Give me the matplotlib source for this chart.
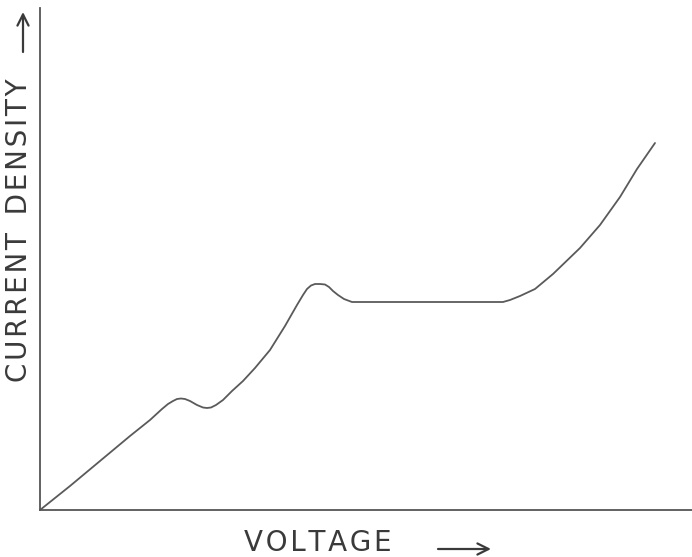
import matplotlib
matplotlib.use("Agg")
import matplotlib.pyplot as plt
from matplotlib.patches import FancyArrowPatch

# Voltage / current density readings (arbitrary units)
voltage = [0, 30, 60, 90, 110, 122, 128, 133, 137, 141, 145, 150, 157, 163, 167,
           171, 176, 183, 192, 203, 215, 230, 245, 257, 263, 267, 271, 275, 280,
           285, 289, 293, 298, 304, 312, 360, 410, 463, 470, 480, 495, 513, 540,
           560, 580, 597, 615]
current = [0, 24, 49, 74, 90, 101, 106, 109, 111, 111.5, 111, 109, 105, 102.5, 102,
           102.5, 105, 110, 119, 129, 142, 160, 184, 205, 215, 221, 224.5, 226, 226,
           225.5, 223, 219, 215, 211, 208, 208, 208, 208, 210, 214, 221, 236, 262,
           285, 313, 341, 367]

x_words = ["VOLTAGE"]
y_words = ["CURRENT", "DENSITY"]


def spaced(words):
    return "  ".join("\u200a".join(w) for w in words)


W, H = 692, 557
fig = plt.figure(figsize=(W / 100, H / 100), dpi=100)
ax = fig.add_axes([40 / W, 1 - 510 / H, 1 - 40 / W, (510 - 8) / H])
ax.plot(voltage, current, color="#5a5a5a", lw=1.3, solid_capstyle="round",
        solid_joinstyle="round")
ax.set_xlim(0, 652)
ax.set_ylim(0, 502)
ax.set_xticks([])
ax.set_yticks([])
for s in ["top", "right"]:
    ax.spines[s].set_visible(False)
for s in ["left", "bottom"]:
    ax.spines[s].set_color("#555555")
    ax.spines[s].set_linewidth(1.3)

tc = "#3a3a3a"
fs = 20
fig.text(318 / W, 1 - 543 / H, spaced(x_words), ha="center", va="center",
         fontsize=fs, color=tc, family="DejaVu Sans")
fig.text(19 / W, 1 - 230 / H, spaced(y_words), ha="center", va="center",
         rotation=90, fontsize=fs, color=tc, family="DejaVu Sans")

# direction arrows next to the axis titles
arrow_kw = dict(arrowstyle="->,head_length=0.5,head_width=0.25",
                mutation_scale=16, color=tc, lw=1.6, shrinkA=0, shrinkB=0,
                transform=fig.transFigure)
fig.add_artist(FancyArrowPatch((438 / W, 1 - 549 / H), (491 / W, 1 - 549 / H),
                               **arrow_kw))
fig.add_artist(FancyArrowPatch((23 / W, 1 - 52 / H), (23 / W, 1 - 12 / H),
                               **arrow_kw))

fig.savefig("out.png", dpi=100)
